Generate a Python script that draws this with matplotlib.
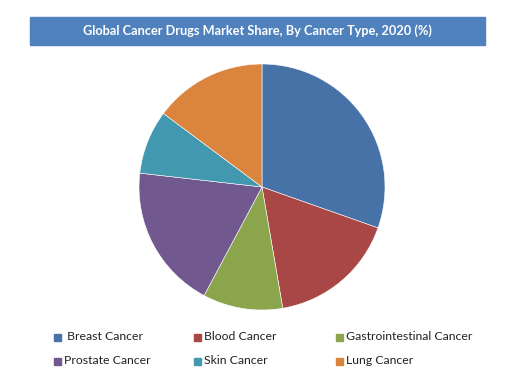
import matplotlib.pyplot as plt
from matplotlib.patches import Rectangle

# shares (%)
labels = [' Breast Cancer', 'Blood Cancer', 'Gastrointestinal Cancer',
          'Prostate Cancer', 'Skin Cancer', 'Lung Cancer']
shares = [30.4, 16.9, 10.5, 19.0, 8.4, 14.8]
colors = ['#4672A7', '#A84745', '#8AA54C', '#71588F', '#4198AF', '#DB843D']
title = 'Global Cancer Drugs Market Share, By Cancer Type, 2020 (%)'

W, H = 525, 391
fig = plt.figure(figsize=(W / 100, H / 100), dpi=100)
plt.rcParams['font.family'] = ['Lato', 'DejaVu Sans']

# title banner
fig.patches.append(Rectangle((30 / W, 1 - 45 / H), 455 / W, 28 / H,
                             transform=fig.transFigure, color='#4F81BD'))
fig.text(257.5 / W, 1 - 31 / H, title, ha='center', va='center',
         color='white', fontsize=9.2, fontweight='bold')

# pie
cx, cy, r = 262, 187, 123
ax = fig.add_axes([(cx - r) / W, (H - cy - r) / H, 2 * r / W, 2 * r / H])
ax.pie(shares, colors=colors, startangle=90, counterclock=False,
       wedgeprops=dict(edgecolor='white', linewidth=0.4))
ax.set_xlim(-1, 1)
ax.set_ylim(-1, 1)

# legend, 3 columns x 2 rows
col_x = [54, 194, 336]
row_y = [337, 361]
for i, (lab, c) in enumerate(zip(labels, colors)):
    x = col_x[i % 3]
    y = row_y[i // 3]
    fig.patches.append(Rectangle((x / W, 1 - (y + 3.5) / H), 7 / W, 7 / H,
                                 transform=fig.transFigure, color=c))
    fig.text((x + 10) / W, 1 - y / H, lab, ha='left', va='center',
             fontsize=8.8, color='#222222')

fig.savefig('out.png', dpi=100)
